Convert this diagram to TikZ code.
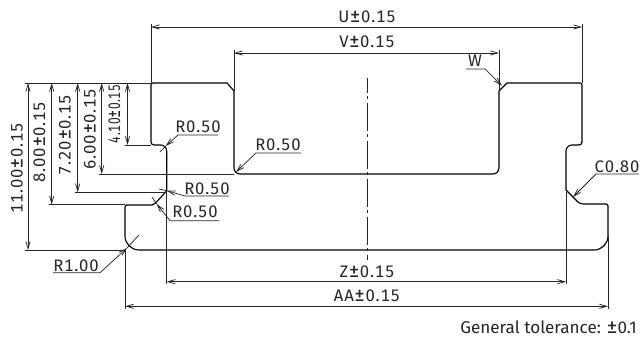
\documentclass[tikz,border=0pt]{standalone}
\usepackage{fontspec}
\usepackage{graphicx}
\setmainfont{Fira Sans}
\newfontfamily\dimfont[LetterSpace=5,Numbers=Monospaced]{Fira Sans}
\newcommand{\wpm}{\scalebox{1.25}{±}}
\usetikzlibrary{arrows.meta}
\tikzset{
  x=0.75pt,y=-0.75pt,
  outline/.style={line width=0.85pt,line join=round},
  thin line/.style={line width=0.55pt,black!85},
  dim/.style={thin line,{Straight Barb[length=5.5pt,width=3.2pt]}-{Straight Barb[length=5.5pt,width=3.2pt]}},
  lead/.style={thin line,{Straight Barb[length=5.5pt,width=3.2pt]}-},
  lbl/.style={inner sep=0pt,font=\fontsize{12.5pt}{14pt}\dimfont,text=black!85},
  plain lbl/.style={inner sep=0pt,font=\fontsize{12.8pt}{15pt}\selectfont,text=black!85},
}
\begin{document}
\begin{tikzpicture}
\useasboundingbox (0,0) rectangle (642,338);
\draw[outline] (151,85) .. controls (151,83.8) and (151.8,83) .. (153,83) -- (227,83) -- (234,91) -- (234,168) .. controls (234,171.3) and (236.7,174) .. (240,174) -- (493,174) .. controls (496.3,174) and (499,171.3) .. (499,168) -- (499,91) -- (507,83) -- (580,83) .. controls (581.2,83) and (582,83.8) .. (582,85) -- (582,142) .. controls (582,143.7) and (580.7,145) .. (579,145) -- (572,145) .. controls (568.7,145) and (566,147.7) .. (566,151) -- (566,190) -- (578,202) .. controls (579.5,203.3) and (581,204) .. (583,204) -- (606,204) .. controls (607.2,204) and (608,204.8) .. (608,206) -- (608,236) .. controls (608,243.7) and (601.7,250) .. (594,250) -- (139,250) .. controls (131.3,250) and (125,243.7) .. (125,236) -- (125,207) .. controls (125,205.8) and (125.8,205) .. (127,205) -- (152,205) .. controls (153.5,205) and (154,204.7) .. (155,203.5) -- (166.7,191) -- (166.7,151) .. controls (166.7,147.7) and (164,145) .. (160.7,145) -- (154,145) .. controls (152.3,145) and (151,143.7) .. (151,142) -- cycle;
% centre line
\draw[thin line,dash pattern=on 21pt off 2.5pt on 2.5pt off 2.5pt,dash phase=10pt] (367,78) -- (367,260);
% extension lines
\coordinate (u1) at (151,27); \coordinate (u2) at (582,27);
\coordinate (v1) at (234,53); \coordinate (v2) at (499,53);
\draw[thin line] (151,83) -- (151,24);
\draw[thin line] (582,83) -- (582,24);
\draw[thin line] (234,91) -- (234,50);
\draw[thin line] (499,91) -- (499,50);
\draw[dim] (u1) -- (u2);
\draw[dim] (v1) -- (v2);
\node[lbl] (ut) at (367,17) {U\wpm 0.15};
\node[lbl] (vt) at (367,42) {V\wpm 0.15};
% left dims
\draw[thin line] (151,83) -- (25,83);
\draw[thin line] (25,250) -- (125,250);
\draw[thin line] (125,145) -- (151,145);
\draw[thin line] (99,174) -- (234,174);
\draw[thin line] (75,192.3) -- (166,192.3);
\draw[thin line] (49,204.5) -- (125,204.5);
\coordinate (a1) at (28,83); \coordinate (a2) at (28,250);
\coordinate (b1) at (51.7,83); \coordinate (b2) at (51.7,204.5);
\coordinate (c1) at (77.7,83); \coordinate (c2) at (77.7,192.3);
\coordinate (d1) at (101.7,83); \coordinate (d2) at (101.7,174);
\coordinate (e1) at (127.5,83); \coordinate (e2) at (127.5,145);
\draw[dim] (a1) -- (a2);
\draw[dim] (b1) -- (b2);
\draw[dim] (c1) -- (c2);
\draw[dim] (d1) -- (d2);
\draw[dim] (e1) -- (e2);
\node[lbl,rotate=90] (at) at (17,168.5) {11.00\wpm 0.15};
\node[lbl,rotate=90] (bt) at (39.5,142) {8.00\wpm 0.15};
\node[lbl,rotate=90] (ct) at (65,135) {7.20\wpm 0.15};
\node[lbl,rotate=90] (dt) at (90,129) {6.00\wpm 0.15};
\node[lbl,rotate=90] (et) at (114.5,114) {\scalebox{0.72}[1]{4.10\wpm 0.15}};
% Z AA
\draw[thin line] (166.7,192) -- (166.7,284);
\draw[thin line] (566,192) -- (566,284);
\draw[thin line] (125,250) -- (125,309);
\draw[thin line] (608,236) -- (608,309);
\coordinate (z1) at (166.7,281.7); \coordinate (z2) at (566,281.7);
\coordinate (aa1) at (125,306.3); \coordinate (aa2) at (608,306.3);
\draw[dim] (z1) -- (z2);
\draw[dim] (aa1) -- (aa2);
\node[lbl] (zt) at (367,272) {Z\wpm 0.15};
\node[lbl] (aat) at (367,296) {AA\wpm 0.15};
% radii
\node[lbl] (r1) at (198,127) {R0.50};
\coordinate (r1a) at (165.7,146); \coordinate (r1b) at (178,135); \coordinate (r1c) at (218,135); \coordinate (r1d) at (160,152);
\draw[lead] (r1a) -- (r1b) -- (r1c);
\draw[thin line] (r1d) -- (r1a);
\node[lbl] (r2) at (278,145) {R0.50};
\coordinate (r2a) at (236,172); \coordinate (r2b) at (256,153); \coordinate (r2c) at (301,153);
\draw[lead] (r2a) -- (r2b) -- (r2c);
\node[lbl] (r3) at (207,189) {R0.50};
\coordinate (r3a) at (166.7,190.7); \coordinate (r3b) at (185,196); \coordinate (r3c) at (229,196); \coordinate (r3d) at (159,189);
\draw[lead] (r3a) -- (r3b) -- (r3c);
\draw[thin line] (r3d) -- (r3a);
\node[lbl] (r4) at (195,212) {R0.50};
\coordinate (r4a) at (156.7,204); \coordinate (r4b) at (170,220.7); \coordinate (r4c) at (219,220.7); \coordinate (r4d) at (152,197);
\draw[lead] (r4a) -- (r4b) -- (r4c);
\draw[thin line] (r4d) -- (r4a);
\node[lbl] (r5) at (76,266) {R1.00};
\coordinate (r5a) at (127,248); \coordinate (r5b) at (100,272.7); \coordinate (r5c) at (53,272.7); \coordinate (r5d) at (139,235);
\draw[lead] (r5a) -- (r5b) -- (r5c);
\draw[thin line] (r5d) -- (r5a);
\node[lbl] (w) at (475,61) {W};
\coordinate (wa) at (502,85.7); \coordinate (wb) at (485,69); \coordinate (wc) at (466,69);
\draw[lead] (wa) -- (wb) -- (wc);
\node[lbl] (c8) at (617,167) {C0.80};
\coordinate (ca) at (573,197); \coordinate (cb) at (596,174); \coordinate (cc) at (639,174);
\draw[lead] (ca) -- (cb) -- (cc);
\node[plain lbl,anchor=east] (gt) at (637,327) {General tolerance: \scalebox{1.25}{±}0.1};
\end{tikzpicture}
\end{document}
